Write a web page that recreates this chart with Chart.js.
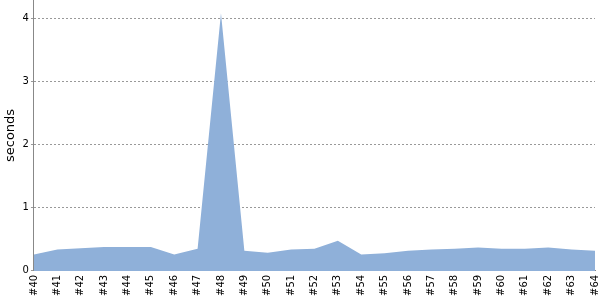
<!DOCTYPE html>
<html>
<head>
<meta charset="utf-8">
<script src="https://cdn.jsdelivr.net/npm/chart.js@4"></script>
<style>
  html, body { margin: 0; padding: 0; background: #fff; }
  #wrap { width: 600px; height: 300px; }
</style>
</head>
<body>
<div id="wrap"><canvas id="chart"></canvas></div>
<script>
const builds = ['#40','#41','#42','#43','#44','#45','#46','#47','#48','#49','#50','#51','#52',
  '#53','#54','#55','#56','#57','#58','#59','#60','#61','#62','#63','#64'];
const durations = [0.26,0.34,0.36,0.38,0.38,0.38,0.26,0.35,4.09,0.32,0.29,0.34,0.35,
  0.48,0.26,0.28,0.32,0.34,0.35,0.37,0.35,0.35,0.37,0.34,0.32];
const yTicks = [0, 1, 2, 3, 4];

Chart.defaults.font.family = 'DejaVu Sans';
Chart.defaults.font.size = 10;
Chart.defaults.color = '#000';

new Chart(document.getElementById('chart'), {
    type: 'line',
    data: {
        labels: builds,
        datasets: [{
            data: durations,
            fill: 'origin',
            backgroundColor: '#8fb0d9',
            borderWidth: 0,
            pointRadius: 0,
            tension: 0
        }]
    },
    options: {
        responsive: true,
        maintainAspectRatio: false,
        animation: false,
        layout: { padding: { top: 0, right: 5, bottom: 0, left: 1 } },
        plugins: { legend: { display: false }, tooltip: { enabled: false } },
        scales: {
            x: {
                grid: { display: false, drawTicks: false },
                border: { color: '#888', width: 1 },
                ticks: { autoSkip: false, minRotation: 90, maxRotation: 90, padding: 4 },
                afterFit: s => { s.paddingLeft = 0; s.paddingRight = 0; }
            },
            y: {
                min: 0,
                max: 4.3,
                afterBuildTicks: axis => { axis.ticks = yTicks.map(v => ({ value: v })); },
                afterFit: s => { s.paddingTop = 0; s.paddingBottom = 0; },
                title: { display: true, text: 'seconds', font: { size: 13 }, padding: 2 },
                border: { color: '#888', width: 1, dash: [2, 2] },
                grid: { color: '#999', tickLength: 3 },
                ticks: { padding: 2 }
            }
        }
    }
});
</script>
</body>
</html>
